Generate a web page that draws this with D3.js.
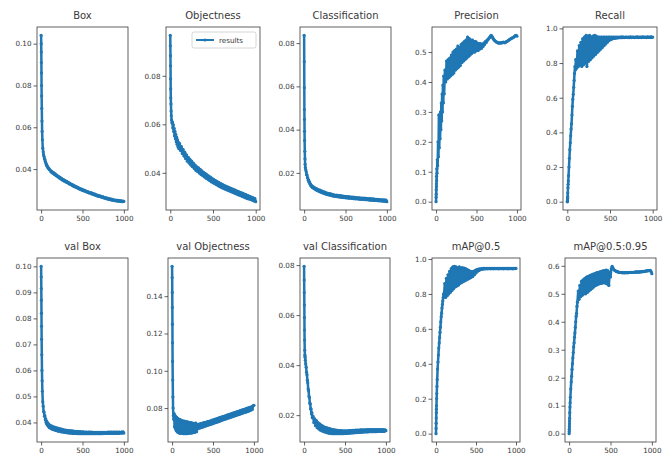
<!DOCTYPE html>
<html><head><meta charset="utf-8">
<script src="https://cdn.jsdelivr.net/npm/d3@7"></script>
<style>body{margin:0;background:#fff}svg{display:block}</style>
</head><body>
<svg id="c" width="672" height="459"></svg>
<script>
// ---- data ----
const epochs = [0,1,2,3,4,5,6,8,10,12,15,20,
 25,30,35,40,45,50,55,60,65,70,75,80,85,90,95,100,
 110,120,130,140,150,160,170,180,190,200,
 210,220,230,240,250,260,270,280,290,300,
 310,320,330,340,350,360,370,380,390,400,
 410,420,430,440,450,460,470,480,490,500,
 510,520,530,540,550,560,570,580,590,600,
 610,620,630,640,650,660,670,680,690,700,
 710,720,730,740,750,760,770,780,790,800,
 810,820,830,840,850,860,870,880,890,900,
 910,920,930,940,950,960,970,980,990,1000];

const titles = ["Box","Objectness","Classification","Precision","Recall",
                "val Box","val Objectness","val Classification","mAP@0.5","mAP@0.5:0.95"];
const xTicks = [0,500,1000];

const boxLoss = [0.104,0.100,0.096,0.091,0.086,0.080,0.075,0.069,0.063,0.058,0.054,0.050,
 0.0482,0.0468,0.0460,0.0450,0.0446,0.0436,0.0433,0.0424,0.0422,0.0415,0.0414,0.0408,0.0407,0.0402,0.0402,0.0397,
 0.0395,0.0386,0.0389,0.0380,0.0383,0.0374,0.0377,0.0368,0.0371,0.0363,
 0.0365,0.0357,0.0360,0.0352,0.0355,0.0347,0.0350,0.0342,0.0345,0.0338,
 0.0341,0.0334,0.0336,0.0329,0.0332,0.0325,0.0327,0.0320,0.0323,0.0316,
 0.0319,0.0313,0.0315,0.0309,0.0311,0.0305,0.0307,0.0301,0.0304,0.0298,
 0.0301,0.0295,0.0298,0.0292,0.0294,0.0289,0.0291,0.0286,0.0288,0.0283,
 0.0286,0.0280,0.0283,0.0277,0.0280,0.0274,0.0277,0.0271,0.0274,0.0269,
 0.0272,0.0267,0.0269,0.0264,0.0267,0.0262,0.0264,0.0259,0.0262,0.0257,
 0.0260,0.0255,0.0258,0.0253,0.0256,0.0251,0.0254,0.0250,0.0252,0.0248,
 0.0251,0.0247,0.0250,0.0246,0.0249,0.0245,0.0248,0.0244,0.0247,0.0245];
const objLoss = [0.0967,0.0924,0.0883,0.0841,0.0788,0.0746,0.0709,0.0684,0.0655,0.0635,0.0618,0.0605,
 0.0610,0.0585,0.0598,0.0570,0.0583,0.0552,0.0570,0.0540,0.0558,0.0528,0.0546,0.0518,0.0536,0.0508,0.0526,0.0500,
 0.0520,0.0492,0.0508,0.0480,0.0496,0.0469,0.0485,0.0458,0.0474,0.0448,
 0.0464,0.0440,0.0456,0.0432,0.0448,0.0425,0.0440,0.0418,0.0432,0.0410,
 0.0425,0.0405,0.0420,0.0399,0.0414,0.0393,0.0408,0.0388,0.0402,0.0383,
 0.0397,0.0378,0.0392,0.0373,0.0387,0.0368,0.0382,0.0363,0.0377,0.0359,
 0.0372,0.0355,0.0368,0.0351,0.0364,0.0347,0.0360,0.0343,0.0356,0.0339,
 0.0352,0.0336,0.0348,0.0333,0.0345,0.0330,0.0342,0.0327,0.0339,0.0324,
 0.0336,0.0321,0.0333,0.0318,0.0330,0.0315,0.0327,0.0312,0.0324,0.0309,
 0.0321,0.0306,0.0318,0.0303,0.0315,0.0300,0.0312,0.0297,0.0309,0.0294,
 0.0306,0.0292,0.0303,0.0290,0.0300,0.0287,0.0297,0.0284,0.0294,0.0281];
const clsLoss = [0.0836,0.0714,0.0594,0.0493,0.0447,0.0392,0.0350,0.0300,0.0265,0.0240,0.0225,0.0215,
 0.0205,0.0192,0.0190,0.0178,0.0176,0.0166,0.0166,0.0157,0.0157,0.0149,0.0150,0.0142,0.0144,0.0137,0.0139,0.0132,
 0.0136,0.0127,0.0131,0.0122,0.0127,0.0118,0.0123,0.0114,0.0120,0.0111,
 0.0117,0.0108,0.0114,0.0105,0.0111,0.0102,0.0108,0.0100,0.0106,0.0098,
 0.0104,0.0096,0.0102,0.0094,0.0100,0.0092,0.0098,0.0091,0.0097,0.0090,
 0.0096,0.0089,0.0095,0.0088,0.0094,0.0087,0.0093,0.0086,0.0092,0.0085,
 0.0091,0.0084,0.0090,0.0083,0.0089,0.0083,0.0088,0.0082,0.0088,0.0081,
 0.0087,0.0080,0.0086,0.0080,0.0085,0.0079,0.0085,0.0078,0.0084,0.0078,
 0.0083,0.0077,0.0083,0.0076,0.0082,0.0076,0.0081,0.0075,0.0081,0.0074,
 0.0080,0.0074,0.0080,0.0073,0.0079,0.0073,0.0078,0.0072,0.0078,0.0071,
 0.0077,0.0071,0.0076,0.0070,0.0076,0.0069,0.0075,0.0068,0.0074,0.0067];
const precision = [0.000,0.015,0.040,0.025,0.060,0.050,0.085,0.070,0.110,0.095,0.140,0.120,
 0.200,0.150,0.290,0.180,0.270,0.210,0.300,0.240,0.330,0.270,0.360,0.300,0.390,0.330,0.420,0.360,
 0.440,0.400,0.470,0.410,0.475,0.415,0.480,0.420,0.490,0.425,
 0.500,0.430,0.505,0.440,0.510,0.445,0.520,0.450,0.515,0.455,
 0.525,0.465,0.530,0.470,0.535,0.475,0.540,0.480,0.550,0.485,
 0.545,0.490,0.540,0.495,0.540,0.500,0.535,0.500,0.535,0.505,
 0.530,0.505,0.528,0.510,0.528,0.512,0.525,0.518,0.530,0.525,
 0.535,0.532,0.540,0.540,0.545,0.548,0.552,0.556,0.553,0.548,
 0.543,0.540,0.537,0.535,0.533,0.532,0.530,0.530,0.531,0.530,
 0.532,0.531,0.533,0.532,0.531,0.533,0.535,0.536,0.538,0.540,
 0.542,0.544,0.546,0.547,0.548,0.550,0.552,0.555,0.556,0.553];
const recall = [0.000,0.000,0.005,0.010,0.020,0.030,0.050,0.080,0.100,0.120,0.150,0.200,
 0.250,0.300,0.340,0.380,0.420,0.450,0.500,0.550,0.590,0.620,0.660,0.700,0.740,0.780,0.760,0.820,
 0.770,0.870,0.780,0.900,0.790,0.920,0.780,0.940,0.790,0.950,
 0.800,0.960,0.780,0.955,0.810,0.960,0.820,0.950,0.830,0.955,
 0.840,0.960,0.850,0.955,0.860,0.950,0.870,0.950,0.880,0.950,
 0.890,0.950,0.900,0.950,0.910,0.950,0.920,0.950,0.930,0.950,
 0.935,0.950,0.940,0.950,0.942,0.950,0.944,0.950,0.945,0.950,
 0.946,0.950,0.946,0.951,0.947,0.950,0.947,0.950,0.948,0.950,
 0.947,0.950,0.947,0.951,0.947,0.950,0.948,0.950,0.947,0.950,
 0.948,0.951,0.947,0.950,0.948,0.950,0.947,0.951,0.948,0.950,
 0.948,0.950,0.947,0.951,0.948,0.950,0.948,0.951,0.948,0.950];
const valBox = [0.1000,0.0960,0.0915,0.0870,0.0820,0.0770,0.0720,0.0660,0.0600,0.0560,0.0520,0.0480,
 0.0462,0.0442,0.0440,0.0424,0.0426,0.0410,0.0414,0.0400,0.0406,0.0393,0.0400,0.0388,0.0396,0.0384,0.0392,0.0380,
 0.0389,0.0376,0.0386,0.0373,0.0383,0.0371,0.0381,0.0369,0.0379,0.0367,
 0.0377,0.0366,0.0375,0.0364,0.0374,0.0363,0.0372,0.0362,0.0371,0.0361,
 0.0370,0.0360,0.0369,0.0359,0.0368,0.0359,0.0368,0.0358,0.0367,0.0358,
 0.0366,0.0358,0.0366,0.0357,0.0365,0.0357,0.0365,0.0357,0.0364,0.0357,
 0.0364,0.0357,0.0363,0.0357,0.0363,0.0357,0.0363,0.0357,0.0363,0.0357,
 0.0363,0.0357,0.0362,0.0357,0.0362,0.0357,0.0362,0.0357,0.0362,0.0357,
 0.0362,0.0357,0.0362,0.0357,0.0362,0.0358,0.0362,0.0358,0.0362,0.0358,
 0.0363,0.0358,0.0363,0.0358,0.0363,0.0358,0.0363,0.0358,0.0363,0.0358,
 0.0363,0.0358,0.0363,0.0358,0.0363,0.0359,0.0363,0.0359,0.0364,0.0359];
const valObj = [0.1560,0.1500,0.1420,0.1340,0.1250,0.1150,0.1050,0.0950,0.0860,0.0800,0.0760,0.0740,
 0.0770,0.0700,0.0760,0.0690,0.0755,0.0680,0.0750,0.0675,0.0745,0.0670,0.0742,0.0668,0.0740,0.0666,0.0738,0.0665,
 0.0735,0.0664,0.0732,0.0663,0.0730,0.0663,0.0728,0.0663,0.0726,0.0664,
 0.0724,0.0665,0.0722,0.0666,0.0720,0.0668,0.0718,0.0670,0.0720,0.0673,
 0.0712,0.0690,0.0714,0.0693,0.0717,0.0696,0.0719,0.0699,0.0722,0.0702,
 0.0724,0.0705,0.0727,0.0708,0.0729,0.0711,0.0732,0.0714,0.0735,0.0717,
 0.0738,0.0720,0.0741,0.0723,0.0744,0.0726,0.0747,0.0729,0.0750,0.0732,
 0.0753,0.0736,0.0756,0.0739,0.0759,0.0742,0.0762,0.0745,0.0765,0.0748,
 0.0768,0.0751,0.0771,0.0754,0.0774,0.0757,0.0777,0.0760,0.0780,0.0763,
 0.0783,0.0766,0.0786,0.0769,0.0789,0.0772,0.0792,0.0775,0.0795,0.0778,
 0.0798,0.0781,0.0801,0.0784,0.0804,0.0788,0.0807,0.0792,0.0812,0.0815];
const valCls = [0.0795,0.0740,0.0690,0.0640,0.0590,0.0540,0.0500,0.0460,0.0440,0.0432,0.0420,0.0405,
 0.0392,0.0372,0.0362,0.0340,0.0330,0.0305,0.0298,0.0275,0.0270,0.0248,0.0245,0.0225,0.0225,0.0205,0.0210,0.0190,
 0.0195,0.0170,0.0185,0.0158,0.0178,0.0150,0.0170,0.0145,0.0165,0.0140,
 0.0160,0.0137,0.0156,0.0134,0.0152,0.0132,0.0150,0.0130,0.0148,0.0128,
 0.0146,0.0127,0.0144,0.0126,0.0142,0.0126,0.0141,0.0126,0.0140,0.0126,
 0.0139,0.0126,0.0138,0.0126,0.0138,0.0126,0.0137,0.0126,0.0137,0.0127,
 0.0137,0.0127,0.0137,0.0128,0.0138,0.0128,0.0138,0.0129,0.0139,0.0129,
 0.0139,0.0130,0.0140,0.0130,0.0140,0.0131,0.0140,0.0131,0.0141,0.0132,
 0.0141,0.0132,0.0141,0.0133,0.0141,0.0133,0.0142,0.0133,0.0142,0.0134,
 0.0142,0.0134,0.0142,0.0134,0.0142,0.0134,0.0142,0.0134,0.0142,0.0135,
 0.0142,0.0135,0.0142,0.0135,0.0142,0.0135,0.0142,0.0135,0.0141,0.0138];
const map50 = [0.000,0.030,0.060,0.090,0.120,0.140,0.160,0.200,0.230,0.270,0.310,0.370,
 0.410,0.450,0.490,0.520,0.550,0.580,0.610,0.640,0.670,0.690,0.720,0.740,0.760,0.780,0.800,0.790,
 0.860,0.780,0.890,0.790,0.910,0.800,0.930,0.810,0.945,0.820,
 0.955,0.830,0.958,0.840,0.955,0.845,0.950,0.850,0.955,0.860,
 0.950,0.865,0.950,0.870,0.948,0.875,0.945,0.880,0.940,0.885,
 0.935,0.890,0.930,0.895,0.928,0.900,0.930,0.910,0.935,0.920,
 0.940,0.930,0.942,0.935,0.944,0.940,0.945,0.942,0.946,0.943,
 0.946,0.944,0.947,0.944,0.946,0.945,0.947,0.944,0.946,0.945,
 0.947,0.944,0.946,0.945,0.947,0.945,0.946,0.944,0.947,0.945,
 0.946,0.945,0.947,0.944,0.946,0.945,0.947,0.945,0.946,0.944,
 0.947,0.945,0.946,0.945,0.947,0.944,0.946,0.945,0.947,0.946];
const map5095 = [0.000,0.008,0.016,0.025,0.035,0.045,0.055,0.075,0.095,0.110,0.130,0.160,
 0.185,0.205,0.230,0.250,0.270,0.290,0.310,0.325,0.345,0.360,0.380,0.400,0.420,0.430,0.455,0.470,
 0.510,0.480,0.530,0.490,0.545,0.495,0.550,0.500,0.555,0.500,
 0.560,0.505,0.562,0.510,0.565,0.515,0.568,0.520,0.570,0.525,
 0.572,0.530,0.575,0.532,0.577,0.535,0.578,0.537,0.580,0.538,
 0.582,0.540,0.583,0.538,0.585,0.535,0.582,0.530,0.575,0.560,
 0.590,0.598,0.592,0.586,0.584,0.582,0.580,0.579,0.578,0.577,
 0.577,0.576,0.576,0.575,0.576,0.575,0.575,0.576,0.575,0.576,
 0.575,0.576,0.576,0.577,0.576,0.577,0.576,0.577,0.577,0.578,
 0.577,0.578,0.578,0.577,0.578,0.579,0.578,0.579,0.580,0.579,
 0.580,0.581,0.581,0.582,0.582,0.583,0.583,0.584,0.580,0.572];

const yTicks = [
 [0.04,0.06,0.08,0.10],[0.04,0.06,0.08],[0.02,0.04,0.06,0.08],[0,0.1,0.2,0.3,0.4,0.5],[0,0.2,0.4,0.6,0.8,1.0],
 [0.04,0.05,0.06,0.07,0.08,0.09,0.10],[0.08,0.10,0.12,0.14],[0.02,0.04,0.06,0.08],[0,0.2,0.4,0.6,0.8,1.0],[0,0.1,0.2,0.3,0.4,0.5,0.6]
];
const yFormats = [".2f",".2f",".2f",".1f",".1f",".2f",".2f",".2f",".1f",".1f"];
const series = [boxLoss,objLoss,clsLoss,precision,recall,valBox,valObj,valCls,map50,map5095];

// ---- layout ----
const frames = [
 [37,128,27,210],[166,260,27,210],[300,391,27,210],[432,521,27,210],[563,657,27,210],
 [37,128,258,442],[168,258,258,442],[300,390,258,442],[432,520,258,442],[565,656,258,442]
];
const C0 = "#1f77b4";
const svg = d3.select("#c");
const FONT = "DejaVu Sans, sans-serif";
const INK = "#3a3a3a";

series.forEach((vals, i) => {
  const [l, r, t, b] = frames[i];
  const x = d3.scaleLinear().domain([-50, 1050]).range([l, r]);
  const [mn, mx] = d3.extent(vals);
  const pad = (mx - mn) * 0.05;
  const y = d3.scaleLinear().domain([mn - pad, mx + pad]).range([b, t]);
  const g = svg.append("g");

  const clipId = "clip" + i;
  g.append("clipPath").attr("id", clipId).append("rect")
    .attr("x", l).attr("y", t).attr("width", r - l).attr("height", b - t);

  const pts = epochs.map((e, k) => [e, vals[k]]).filter(d => d[1] != null);
  const line = d3.line().x(d => x(d[0])).y(d => y(d[1]));
  const dg = g.append("g").attr("clip-path", `url(#${clipId})`);
  dg.append("path").attr("d", line(pts)).attr("fill", "none")
    .attr("stroke", C0).attr("stroke-width", 2.5).attr("stroke-linejoin", "round");
  dg.selectAll("circle").data(pts).join("circle")
    .attr("cx", d => x(d[0])).attr("cy", d => y(d[1])).attr("r", 1.6).attr("fill", C0);

  // axes
  const ax = g.append("g").attr("transform", `translate(0,${b})`)
    .call(d3.axisBottom(x).tickValues(xTicks).tickFormat(d3.format("d")).tickSize(3.5).tickPadding(2));
  const ay = g.append("g").attr("transform", `translate(${l},0)`)
    .call(d3.axisLeft(y).tickValues(yTicks[i]).tickFormat(d3.format(yFormats[i])).tickSize(3.5).tickPadding(2));
  [ax, ay].forEach(a => {
    a.select(".domain").remove();
    a.selectAll("line").attr("stroke", INK).attr("stroke-width", 0.8);
    a.selectAll("text").attr("font-family", FONT).attr("font-size", 7.2).attr("fill", INK);
  });

  g.append("rect").attr("x", l).attr("y", t).attr("width", r - l).attr("height", b - t)
    .attr("fill", "none").attr("stroke", INK).attr("stroke-width", 0.8);

  g.append("text").attr("x", (l + r) / 2).attr("y", t - 8).attr("text-anchor", "middle")
    .attr("font-family", FONT).attr("font-size", 10).attr("fill", INK).text(titles[i]);

  if (i === 1) {
    const lg = g.append("g");
    lg.append("rect").attr("x", r - 68).attr("y", t + 5).attr("width", 64).attr("height", 16)
      .attr("rx", 2).attr("fill", "#fff").attr("fill-opacity", 0.8).attr("stroke", "#ccc").attr("stroke-width", 0.8);
    lg.append("line").attr("x1", r - 64).attr("x2", r - 46).attr("y1", t + 13).attr("y2", t + 13)
      .attr("stroke", C0).attr("stroke-width", 2);
    lg.append("circle").attr("cx", r - 55).attr("cy", t + 13).attr("r", 1.6).attr("fill", C0);
    lg.append("text").attr("x", r - 41).attr("y", t + 15.5).attr("font-family", FONT)
      .attr("font-size", 7.2).attr("fill", INK).text("results");
  }
});
</script>
</body></html>
